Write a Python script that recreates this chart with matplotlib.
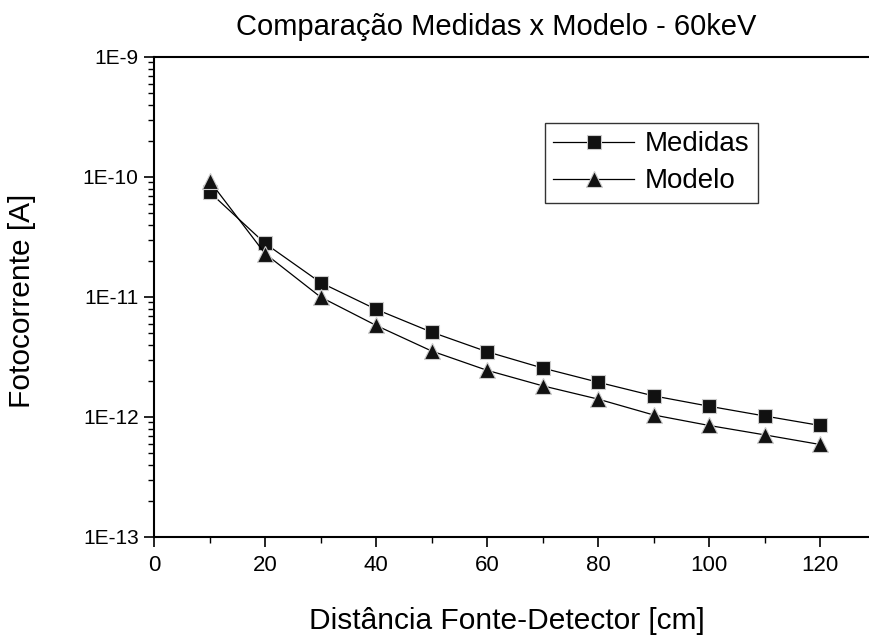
import numpy as np
import matplotlib.pyplot as plt
from matplotlib.ticker import LogLocator, FuncFormatter, MultipleLocator

plt.rcParams['font.family'] = ['Liberation Sans', 'DejaVu Sans']

# distancia fonte-detector [cm]
distancia = [10, 20, 30, 40, 50, 60, 70, 80, 90, 100, 110, 120]

# fotocorrente [A]
medidas = [7.5e-11, 2.8e-11, 1.32e-11, 7.9e-12, 5.1e-12, 3.5e-12,
           2.56e-12, 1.95e-12, 1.5e-12, 1.23e-12, 1.02e-12, 8.5e-13]
modelo = [9.3e-11, 2.3e-11, 1.0e-11, 5.8e-12, 3.55e-12, 2.45e-12,
          1.82e-12, 1.41e-12, 1.04e-12, 8.5e-13, 7.1e-13, 5.9e-13]

fig = plt.figure(figsize=(8.7, 6.42), dpi=100)
ax = fig.add_axes([154/870, 105/642, 716/870, 480/642])

ax.plot(distancia, medidas, color='black', lw=0.9, marker='s', ms=10,
        mfc='#111111', mec='#cccccc', mew=0.8, label='Medidas')
ax.plot(distancia, modelo, color='black', lw=0.9, marker='^', ms=11,
        mfc='#111111', mec='#cccccc', mew=0.8, label='Modelo')

ax.set_yscale('log')
ax.set_ylim(1e-13, 1e-9)
ax.set_xlim(0, 129)

ax.xaxis.set_major_locator(MultipleLocator(20))
ax.xaxis.set_minor_locator(MultipleLocator(10))
ax.yaxis.set_major_locator(LogLocator(base=10))
ax.yaxis.set_minor_locator(LogLocator(base=10, subs=np.arange(2, 10)))
ax.yaxis.set_major_formatter(FuncFormatter(lambda v, p: '1E%d' % round(np.log10(v))))
ax.yaxis.set_minor_formatter(FuncFormatter(lambda v, p: ''))

ax.tick_params(which='major', direction='out', length=7, width=1.2, labelsize=15, pad=4)
ax.tick_params(which='minor', direction='out', length=4, width=1.0)
ax.tick_params(axis='x', which='major', pad=6, labelsize=16)

ax.spines['right'].set_visible(False)
for s in ['left', 'top', 'bottom']:
    ax.spines[s].set_linewidth(1.5)

leg = ax.legend(loc='upper left', bbox_to_anchor=(545/870, 1 - 123/642),
                bbox_transform=fig.transFigure, fontsize=20, frameon=True,
                fancybox=False, edgecolor='black', handlelength=2.9,
                borderpad=0.3, labelspacing=0.4, handletextpad=0.4,
                borderaxespad=0)
leg.get_frame().set_linewidth(1.0)

fig.text(496/870, 1 - 27/642, 'Comparação Medidas x Modelo - 60keV',
         ha='center', va='center', fontsize=21)
fig.text(507/870, 1 - 621/642, 'Distância Fonte-Detector [cm]',
         ha='center', va='center', fontsize=21.5)
fig.text(22/870, 1 - 301/642, 'Fotocorrente [A]', rotation=90,
         ha='center', va='center', fontsize=21.5)

fig.savefig('out.png', dpi=100)
